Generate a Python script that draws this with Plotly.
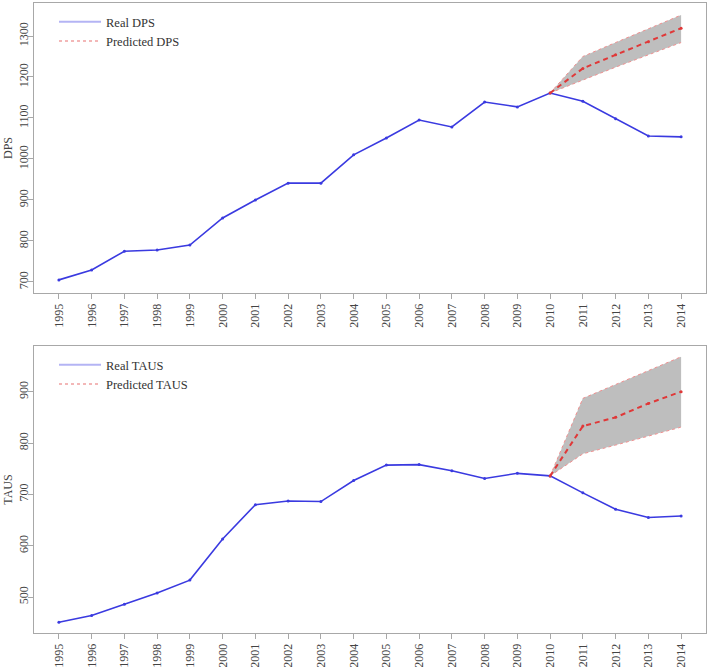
import plotly.graph_objects as go

years = list(range(1995, 2015))
year_labels = [str(y) for y in years]

# DPS (top panel)
dps_real = [705, 729, 775, 778, 790, 856, 900, 941, 941, 1010, 1051, 1095, 1078, 1139, 1127, 1161, 1141, 1098, 1056, 1054]
pred_years = [2010, 2011, 2012, 2013, 2014]
dps_pred = [1161, 1221, 1254, 1286, 1319]
dps_upper = [1161, 1250, 1284, 1317, 1351]
dps_lower = [1161, 1193, 1224, 1254, 1284]
dps_ticks = [700, 800, 900, 1000, 1100, 1200, 1300]

# TAUS (bottom panel)
taus_real = [451, 464, 486, 508, 533, 613, 680, 687, 686, 727, 757, 758, 746, 731, 741, 736, 703, 671, 655, 658]
taus_pred = [736, 833, 850, 877, 900]
taus_upper = [736, 887, 914, 941, 968]
taus_lower = [736, 779, 796, 813, 831]
taus_ticks = [500, 600, 700, 800, 900]

W, H = 709, 667
FONT = "Liberation Serif"
BLUE = "#3a3ae0"
RED = "#e03838"
GREY_FILL = "#bebebe"
BAND_LINE = "#f09090"
AXIS = "#a8a8a8"
TXT = "#444444"

fig = go.Figure()

def add_panel(real, pred, upper, lower, name, xa, ya, legend):
    fig.add_trace(go.Scatter(x=pred_years, y=lower, mode="lines", xaxis=xa, yaxis=ya,
                             line=dict(color=BAND_LINE, width=1, dash="dot"), showlegend=False, hoverinfo="skip"))
    fig.add_trace(go.Scatter(x=pred_years, y=upper, mode="lines", xaxis=xa, yaxis=ya, fill="tonexty",
                             fillcolor=GREY_FILL, line=dict(color=BAND_LINE, width=1, dash="dot"),
                             showlegend=False, hoverinfo="skip"))
    fig.add_trace(go.Scatter(x=years, y=real, mode="lines+markers", xaxis=xa, yaxis=ya,
                             line=dict(color=BLUE, width=1.6), marker=dict(size=3, color=BLUE),
                             showlegend=False))
    fig.add_trace(go.Scatter(x=pred_years, y=pred, mode="lines+markers", xaxis=xa, yaxis=ya,
                             line=dict(color=RED, width=2, dash="5px,4px"), marker=dict(size=3, color=RED),
                             showlegend=False))
    # legend entries
    fig.add_trace(go.Scatter(x=[None], y=[None], mode="lines", xaxis=xa, yaxis=ya, name="Real " + name,
                             line=dict(color="#b4b4f4", width=2), legend=legend))
    fig.add_trace(go.Scatter(x=[None], y=[None], mode="lines", xaxis=xa, yaxis=ya, name="Predicted " + name,
                             line=dict(color="#f0a0a0", width=1.5, dash="dot"), legend=legend))

add_panel(dps_real, dps_pred, dps_upper, dps_lower, "DPS", "x", "y", "legend")
add_panel(taus_real, taus_pred, taus_upper, taus_lower, "TAUS", "x2", "y2", "legend2")

xdom = [34 / W, 706 / W]
xaxis_common = dict(
    domain=xdom, range=[1994.24, 2014.76], tickmode="array", tickvals=years, ticktext=year_labels,
    tickangle=-90, showgrid=False, zeroline=False, showline=True, mirror=True, linecolor=AXIS,
    linewidth=1, ticks="outside", ticklen=5, tickcolor=AXIS,
    tickfont=dict(family=FONT, size=12, color=TXT),
)
yaxis_common = dict(
    tickangle=-90, showgrid=False, zeroline=False, showline=True, mirror=True, linecolor=AXIS,
    linewidth=1, ticks="outside", ticklen=5, tickcolor=AXIS, ticklabelstandoff=-5,
    tickfont=dict(family=FONT, size=12, color=TXT), title_font=dict(family=FONT, size=12, color=TXT),
    title_standoff=2,
)

legend_common = dict(xanchor="left", yanchor="top", bgcolor="rgba(0,0,0,0)", traceorder="normal",
                     font=dict(family=FONT, size=12.5, color="#333333"), itemwidth=42, tracegroupgap=0)

fig.update_layout(
    width=W, height=H, margin=dict(l=0, r=0, t=0, b=0),
    paper_bgcolor="white", plot_bgcolor="white",
    xaxis=dict(**xaxis_common, anchor="y"),
    xaxis2=dict(**xaxis_common, anchor="y2"),
    yaxis=dict(**yaxis_common, domain=[1 - 293 / H, 1 - 3 / H], range=[673, 1380.5],
               tickvals=dps_ticks, title_text="DPS", anchor="x"),
    yaxis2=dict(**yaxis_common, domain=[1 - 633 / H, 1 - 346 / H], range=[430, 989],
                tickvals=taus_ticks, title_text="TAUS", anchor="x2"),
    legend=dict(x=54 / W, y=1 - 7 / H, **legend_common),
    legend2=dict(x=54 / W, y=1 - 350 / H, **legend_common),
)

fig.write_html("out.html", config={"displayModeBar": False},
               post_script="document.body.style.margin='0px';document.body.style.overflow='hidden';")
